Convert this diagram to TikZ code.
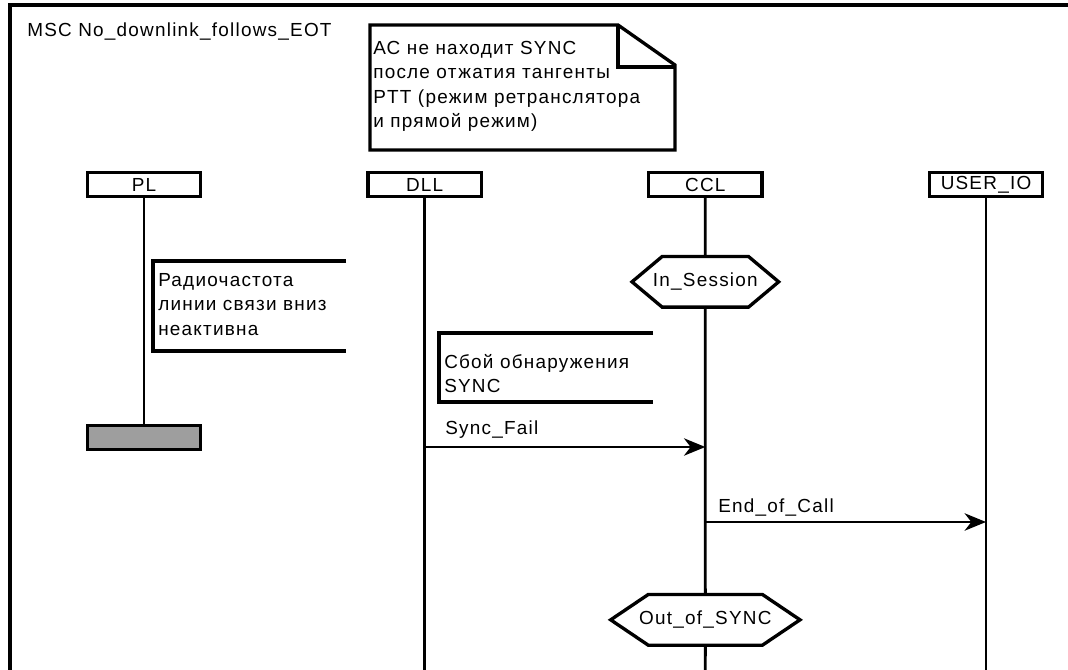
\documentclass[tikz,border=0pt]{standalone}
\usepackage{fontspec}
\setmainfont{Liberation Sans}[LetterSpace=6.5]
\usetikzlibrary{arrows.meta,positioning,shapes.symbols}

\begin{document}
\begin{tikzpicture}[x=0.75pt,y=-0.75pt,>={Stealth[length=16pt,width=13pt,inset=5pt]},
    node distance=123pt,font=\fontsize{14.2}{18.3}\selectfont]
  \tikzstyle{head}=[draw,line width=2.5pt,minimum width=85pt,minimum height=18pt,inner sep=0pt]
  \tikzstyle{state}=[draw,line width=2.5pt,shape=signal,signal to=west and east,minimum height=38pt,inner ysep=2pt]
  \tikzstyle{life}=[line width=2.1pt]
  \tikzstyle{msg}=[line width=2.1pt,->]
  \tikzstyle{note}=[align=left,anchor=north west,inner sep=0pt]
  \tikzstyle{lbl}=[anchor=base west,inner sep=0pt]
  \useasboundingbox (0,0) rectangle (1068,670);
  \draw[line width=2.5pt] (10,680) -- (10,5) -- (1080,5);
  \node[lbl] (title) at (27,37) {MSC No\_downlink\_follows\_EOT};
  % comment with folded corner
  \draw[line width=2.5pt] (370,25) -- (618,25) -- (675,65) -- (675,150) -- (370,150) -- cycle;
  \draw[line width=2.5pt] (618,25) -- (618,67) -- (675,67);
  \node[note] (acnote) at (373,41) {АС не находит SYNC\\после отжатия тангенты\\PTT (режим ретранслятора\\и прямой режим)};
  % instances
  \node[head] (pl) at (144,184.5) {PL};
  \node[head,right=of pl] (dll) {DLL};
  \node[head,right=of dll] (ccl) {CCL};
  \node[head,right=of ccl] (uio) {USER\_IO};
  \coordinate (bot) at (0,680);
  \node[state,signal pointer angle=80,inner xsep=-8pt,minimum width=110pt,below=42.5pt of ccl] (insess) {In\_Session};
  \node[state,signal pointer angle=68,inner xsep=-11pt,minimum width=142pt,below=213pt of insess] (outsync) {Out\_of\_SYNC};
  \node[head,fill=black!38,below=169pt of pl] (plstop) {};
  \draw[life] (pl) -- (plstop);
  \draw[life] (dll) -- (dll |- bot);
  \draw[life] (ccl) -- (insess);
  \draw[life] (insess) -- (outsync);
  \draw[life] (outsync) -- (ccl |- bot);
  \draw[life] (uio) -- (uio |- bot);
  % actions
  \node[note] (rfnote) at (158,273) {Радиочастота\\линии связи вниз\\неактивна};
  \draw[line width=2.5pt] (346,261) -- (153,261) -- (153,351) -- (346,351);
  \node[note] (syncnote) at (444,354) {Сбой обнаружения\\SYNC};
  \draw[line width=2.5pt] (653,333) -- (439,333) -- (439,402) -- (653,402);
  % messages
  \coordinate (sf) at (0,447);
  \coordinate (eoc) at (0,522);
  \node[lbl] (sflbl) at (445,435) {Sync\_Fail};
  \draw[msg] (dll |- sf) -- (ccl |- sf);
  \node[lbl] (eoclbl) at (718,512) {End\_of\_Call};
  \draw[msg] (ccl |- eoc) -- (uio |- eoc);
\end{tikzpicture}
\end{document}
